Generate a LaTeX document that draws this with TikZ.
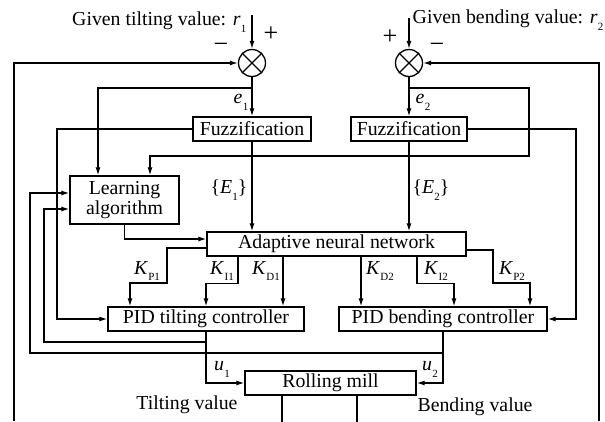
\documentclass[tikz,border=0pt]{standalone}
\usepackage{fontspec}
\setmainfont{Liberation Serif}
\usepackage{tikz}
\usetikzlibrary{arrows.meta,shapes}
\newcommand{\varsub}[2]{\textit{#1}\kern0.3pt\raisebox{-0.35em}{\fontsize{11}{12}\selectfont #2}}

\begin{document}
\begin{tikzpicture}[x=1pt,y=-1pt,>={Latex[length=8pt,width=5pt]},line width=1.3pt]
    \fontsize{19.8}{21}\selectfont
    \tikzstyle{block}=[rectangle,draw,line width=1.3pt,fill=white,inner sep=0pt,align=center]  % boxes
    \tikzstyle{sumnode}=[circle,draw,line width=1.3pt,minimum size=27pt,inner sep=0pt]  % summing points
    \tikzstyle{dot}=[circle,fill,inner sep=0pt,minimum size=3.8pt]  % crossing marks
    \tikzstyle{sign}=[inner sep=0pt,font=\fontsize{26}{26}\selectfont]
    \useasboundingbox (0,0) rectangle (605,421);

    % blocks
    \node[sumnode](sum1) at (252,63){};
    \node[sumnode](sum2) at (409,63){};
    \draw (sum1.north west)--(sum1.south east) (sum1.north east)--(sum1.south west);
    \draw (sum2.north west)--(sum2.south east) (sum2.north east)--(sum2.south west);
    \node[block,minimum width=118pt,minimum height=24pt](fuz1) at (252,129){Fuzzification};
    \node[block,minimum width=116pt,minimum height=24pt](fuz2) at (409,129){Fuzzification};
    \node[block,minimum width=109pt,minimum height=48pt](la) at (124.5,200){Learning\\[-1pt]algorithm};
    \node[block,minimum width=259pt,minimum height=24pt](ann) at (336.5,244){Adaptive neural network};
    \node[block,minimum width=196pt,minimum height=24pt](pid1) at (206,319){PID tilting controller};
    \node[block,minimum width=208pt,minimum height=24pt](pid2) at (443,319){PID bending controller};
    \node[block,minimum width=171pt,minimum height=24pt](mill) at (330.5,383){Rolling mill};

    % inputs and signs
    \coordinate (r1in) at (252,15);
    \coordinate (r2in) at (409,18);
    \node[anchor=east,inner sep=0pt](r1txt) at (247,22){Given tilting value: \varsub{r}{1}};
    \node[anchor=east,inner sep=0pt](r2txt) at (604,20){Given bending value: \varsub{r}{2}};
    \node[sign](p1) at (271,34){+};
    \node[sign](m1) at (221,48){−};
    \node[sign](p2) at (390,37){+};
    \node[sign](m2) at (437,48){−};
    \draw[->](r1in)--(sum1.north);
    \draw[->](r2in)--(sum2.north);

    % errors
    \coordinate (e1tap) at (252,88);
    \coordinate (e2tap) at (409,88);
    \draw[->](sum1.south)--(fuz1.north);
    \draw[->](sum2.south)--(fuz2.north);
    \node(e1) at (241,102){\varsub{e}{1}};
    \node(e2) at (423,102){\varsub{e}{2}};
    \draw[->](e1tap) -| ([xshift=-26.5pt]la.north);
    \draw[->](e2tap) -| (529,156) -| ([xshift=25.5pt]la.north);

    % fuzzy sets
    \coordinate (f1c) at (57,129);
    \coordinate (f2c) at (576,129);
    \draw[->](fuz1.south)--(fuz1.south |- ann.north);
    \draw[->](fuz2.south)--(fuz2.south |- ann.north);
    \node(E1) at (229,190){\{\varsub{E}{1}\}};
    \node(E2) at (431,190){\{\varsub{E}{2}\}};
    \draw[->](fuz1.west) -- (f1c) |- (pid1.west);
    \draw[->](fuz2.east) -- (f2c) |- (pid2.east);

    % learning and gains
    \draw[->](la.south) |- ([yshift=5pt]ann.west);
    \draw[->]([yshift=-4pt]ann.west) -| (167,283) -| ([xshift=-76pt]pid1.north);
    \draw[->]([xshift=-98.5pt]ann.south) -- ++(0,27) -| (pid1.north);
    \draw[->]([xshift=-53.5pt]ann.south) -- ([xshift=-53.5pt]ann.south |- pid1.north);
    \draw[->]([xshift=24.5pt]ann.south) -- ([xshift=24.5pt]ann.south |- pid2.north);
    \draw[->]([xshift=80.5pt]ann.south) -- ++(0,27) -| ([xshift=11pt]pid2.north);
    \draw[->]([yshift=-6pt]ann.east) -| (493,283) -| ([xshift=87pt]pid2.north);
    \node(kp1) at (147,271){\varsub{K}{P1}};
    \node(ki1) at (222,271){\varsub{K}{I1}};
    \node(kd1) at (266,271){\varsub{K}{D1}};
    \node(kd2) at (380,271){\varsub{K}{D2}};
    \node(ki2) at (436,271){\varsub{K}{I2}};
    \node(kp2) at (512,271){\varsub{K}{P2}};

    % controller outputs
    \draw[->](pid1.south) |- (44,342) |- ([yshift=-9pt]la.west);
    \draw[->](pid2.south) |- (30,353) |- ([yshift=7pt]la.west);
    \draw[->](pid1.south) |- (mill.west);
    \draw[->](pid2.south) |- (mill.east);
    \node(u1) at (222,369){\varsub{u}{1}};
    \node(u2) at (430,369){\varsub{u}{2}};

    % plant outputs and feedback
    \draw([xshift=-48.5pt]mill.south) -- ++(0,26);
    \draw([xshift=26.5pt]mill.south) -- ++(0,26);
    \coordinate (fbl) at (14,421);
    \coordinate (fbr) at (599,421);
    \draw[->](fbl) |- (sum1.west);
    \draw[->](fbr) |- (sum2.east);
    \node(tilt) at (187,405){Tilting value};
    \node(bend) at (475,407){Bending value};

    % crossing marks
    \foreach \p in {(98,129),(529,129),(252,156),(409,156),(57,193),(57,209),(206,353)}
        \node[dot] at \p {};
\end{tikzpicture}
\end{document}
